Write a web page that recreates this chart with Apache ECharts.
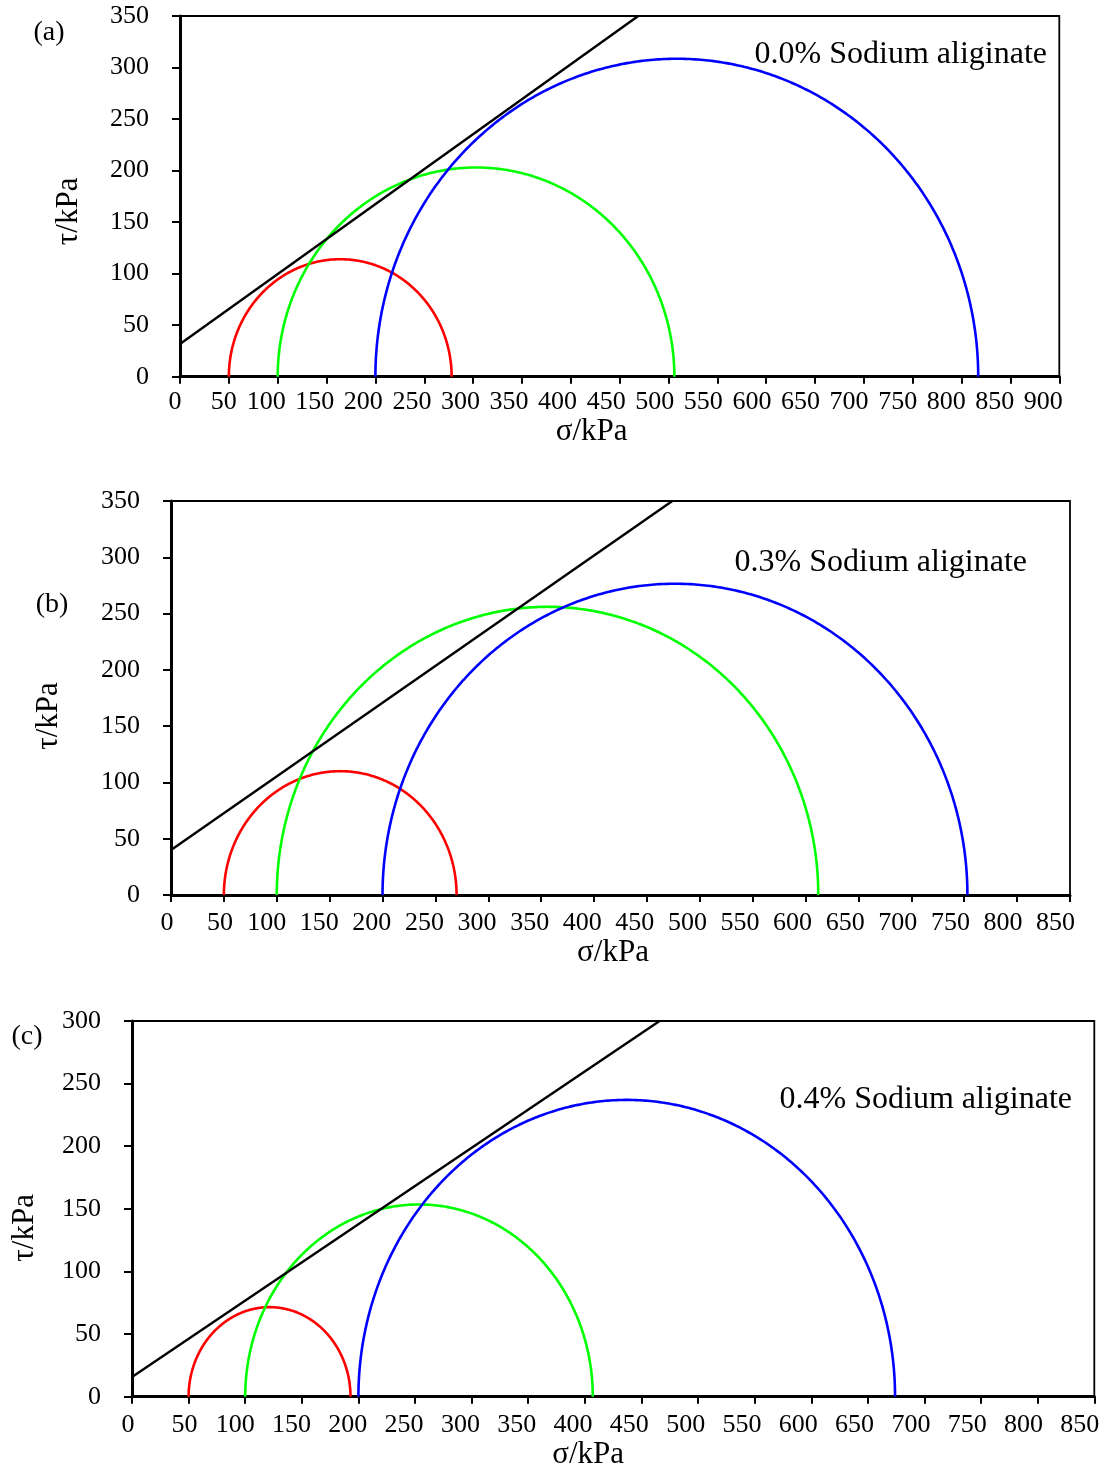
<!DOCTYPE html>
<html>
<head>
<meta charset="utf-8">
<script src="https://cdn.jsdelivr.net/npm/echarts@6/dist/echarts.min.js"></script>
<style>
  html, body { margin: 0; padding: 0; background: #ffffff; }
  #main { width: 1107px; height: 1470px; }
</style>
</head>
<body>
<div id="main"></div>
<script>
// Mohr circles for three sodium alginate contents.
// Each circle is given by its minor (sigma3) and major (sigma1) principal stress, kPa.
const panelLetters = ['(a)', '(b)', '(c)'];
const panelNames = ['0.0% Sodium aliginate', '0.3% Sodium aliginate', '0.4% Sodium aliginate'];

const sigma3A = [50, 100, 200];
const sigma1A = [278, 506, 817];
const sigma3B = [50, 100, 200];
const sigma1B = [270, 612, 753];
const sigma3C = [50, 100, 200];
const sigma1C = [193, 407, 674];

// Failure envelope, two points [sigma, tau] in kPa
const envelopeA = [[0, 31.7], [469, 350]];
const envelopeB = [[0, 40], [474, 350]];
const envelopeC = [[0, 15.7], [466, 300]];

const xMaxes = [900, 850, 850];
const yMaxes = [350, 350, 300];
const tickStep = 50;
const circleColors = ['#ff0000', '#00ff00', '#0000ff'];

const FONT = '"Liberation Serif", "Times New Roman", Times, serif';

const sigma3s = [sigma3A, sigma3B, sigma3C];
const sigma1s = [sigma1A, sigma1B, sigma1C];
const envelopes = [envelopeA, envelopeB, envelopeC];

// layout of the three panels
const grids = [
  { left: 180, top: 16, width: 879.3, height: 360.7 },
  { left: 171, top: 501, width: 899, height: 394 },
  { left: 132, top: 1021, width: 962.3, height: 375.7 }
];
const xNameGap = [40, 42, 43];
const xNameShift = [56, 15, 50];
const xLabelMargin = [12, 15, 15];
const yNameGap = [96, 107, 92];
const yNameShift = [30, 36, 38];
const letterPos = [[49, 33], [52, 605], [27, 1037]];
const namePos = [[1047, 55], [1027, 563], [1072, 1100]];

// the sigma tick labels sit a little left of their ticks, more so further right
function labelLeftShift(panel, v) {
  if (v < 100) return panel === 0 ? 5 : 4;
  return panel === 0 ? 11 + 0.0055 * v : 9.5 + 0.0058 * v;
}
function xLabelRich(panel, max) {
  const rich = {};
  for (let v = 0; v <= max; v += tickStep) {
    rich['t' + v] = {
      fontFamily: FONT, fontSize: 26, color: '#000',
      padding: [0, 2 * labelLeftShift(panel, v), 0, 0]
    };
  }
  return rich;
}

// upper half of a Mohr circle drawn through the cartesian coordinate system
function renderHalfCircle(params, api) {
  const s3 = api.value(0);
  const s1 = api.value(1);
  const c = (s3 + s1) / 2;
  const r = (s1 - s3) / 2;
  const pts = [];
  for (let i = 0; i <= 360; i++) {
    const t = Math.PI * i / 360;
    pts.push(api.coord([c + r * Math.cos(t), r * Math.sin(t)]));
  }
  return {
    type: 'polyline',
    shape: { points: pts },
    style: { stroke: api.visual('color'), lineWidth: 2.6, fill: null }
  };
}

const gridOpts = [], xAxes = [], yAxes = [], series = [], graphics = [];

for (let i = 0; i < 3; i++) {
  gridOpts.push(Object.assign({
    show: true,
    borderColor: '#000',
    borderWidth: 1.8,
    backgroundColor: 'transparent',
    containLabel: false,
    outerBoundsMode: 'none'
  }, grids[i]));

  xAxes.push({
    gridIndex: i,
    type: 'value',
    min: 0,
    max: xMaxes[i],
    interval: tickStep,
    name: 'σ/kPa',
    nameLocation: 'middle',
    nameGap: xNameGap[i],
    nameTextStyle: { fontFamily: FONT, fontSize: 31, color: '#000', padding: [0, xNameShift[i], 0, 0] },
    axisLine: { show: true, onZero: false, lineStyle: { color: '#000', width: 3 } },
    axisTick: { show: true, inside: false, length: 7, lineStyle: { color: '#000', width: 2 } },
    axisLabel: {
      show: true, fontFamily: FONT, fontSize: 26, color: '#000', margin: xLabelMargin[i],
      formatter: (v) => '{t' + v + '|' + v + '}',
      rich: xLabelRich(i, xMaxes[i])
    },
    splitLine: { show: false }
  });

  yAxes.push({
    gridIndex: i,
    type: 'value',
    min: 0,
    max: yMaxes[i],
    interval: tickStep,
    name: 'τ/kPa',
    nameLocation: 'middle',
    nameGap: yNameGap[i],
    nameTextStyle: { fontFamily: FONT, fontSize: 31, color: '#000', padding: [0, yNameShift[i], 0, 0] },
    axisLine: { show: true, onZero: false, lineStyle: { color: '#000', width: 3 } },
    axisTick: { show: true, inside: false, length: 8, lineStyle: { color: '#000', width: 2 } },
    axisLabel: { show: true, fontFamily: FONT, fontSize: 26, color: '#000', margin: 31 },
    splitLine: { show: false }
  });

  series.push({
    type: 'custom',
    name: 'Mohr circles ' + panelLetters[i],
    xAxisIndex: i,
    yAxisIndex: i,
    renderItem: renderHalfCircle,
    encode: { x: [0, 1] },
    data: sigma3s[i].map((s3, k) => ({
      value: [s3, sigma1s[i][k]],
      itemStyle: { color: circleColors[k] }
    })),
    silent: true,
    z: 2
  });

  series.push({
    type: 'line',
    name: 'Failure envelope ' + panelLetters[i],
    xAxisIndex: i,
    yAxisIndex: i,
    data: envelopes[i],
    symbol: 'none',
    clip: true,
    lineStyle: { color: '#000', width: 2.4 },
    silent: true,
    z: 3
  });

  graphics.push({
    type: 'text',
    x: letterPos[i][0],
    y: letterPos[i][1],
    style: { text: panelLetters[i], fontFamily: FONT, fontSize: 28, fill: '#000', align: 'center', verticalAlign: 'middle' }
  });
  graphics.push({
    type: 'text',
    x: namePos[i][0],
    y: namePos[i][1],
    style: { text: panelNames[i], fontFamily: FONT, fontSize: 32, fill: '#000', align: 'right', verticalAlign: 'middle' }
  });
}

const chart = echarts.init(document.getElementById('main'), null, { renderer: 'canvas' });
chart.setOption({
  animation: false,
  backgroundColor: '#ffffff',
  grid: gridOpts,
  xAxis: xAxes,
  yAxis: yAxes,
  series: series,
  graphic: graphics
});
</script>
</body>
</html>
